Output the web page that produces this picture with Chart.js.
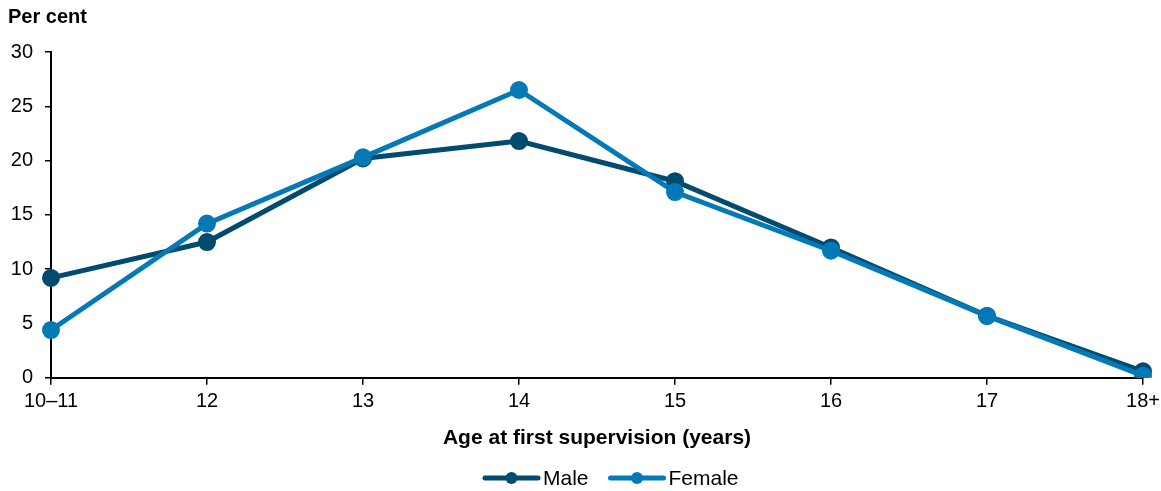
<!DOCTYPE html>
<html>
<head>
<meta charset="utf-8">
<script src="https://cdn.jsdelivr.net/npm/chart.js@4/dist/chart.umd.min.js"></script>
<style>
    html, body { margin: 0; padding: 0; background: #fff; }
    #wrap { width: 1161px; height: 491px; position: relative; }
</style>
</head>
<body>
<div id="wrap"><canvas id="chart"></canvas></div>
<script>
const ageLabels = ['10\u201311', '12', '13', '14', '15', '16', '17', '18+'];
const maleValues = [9.2, 12.5, 20.2, 21.8, 18.1, 12.0, 5.7, 0.6];
const femaleValues = [4.4, 14.2, 20.3, 26.5, 17.1, 11.7, 5.7, 0.2];
const yTicks = [0, 5, 10, 15, 20, 25, 30];

const maleColor = '#004b6e';
const femaleColor = '#0479b7';
const fontFamily = '"Liberation Sans", Arial, sans-serif';

// "Per cent" label top-left + legend (line with dot) under the axis title
const extras = {
    id: 'extras',
    afterDraw(chart) {
        const ctx = chart.ctx;
        ctx.save();
        ctx.fillStyle = '#000';
        ctx.textBaseline = 'middle';
        ctx.textAlign = 'left';
        ctx.font = 'bold 20px ' + fontFamily;
        ctx.fillText('Per cent', 8, 17);

        ctx.font = '21px ' + fontFamily;
        const y = 478;
        let x = 485;
        chart.data.datasets.forEach(ds => {
            ctx.strokeStyle = ds.borderColor;
            ctx.fillStyle = ds.borderColor;
            ctx.lineWidth = 5;
            ctx.lineCap = 'round';
            ctx.beginPath();
            ctx.moveTo(x, y);
            ctx.lineTo(x + 53, y);
            ctx.stroke();
            ctx.beginPath();
            ctx.arc(x + 26.5, y, 6, 0, Math.PI * 2);
            ctx.fill();
            ctx.fillStyle = '#000';
            ctx.fillText(ds.label, x + 58, y + 1);
            x += 58 + ctx.measureText(ds.label).width + 22;
        });
        ctx.restore();
    }
};

new Chart(document.getElementById('chart'), {
    type: 'line',
    data: {
        labels: ageLabels,
        datasets: [
            {
                label: 'Male',
                data: maleValues,
                borderColor: maleColor,
                backgroundColor: maleColor,
                borderWidth: 5,
                pointRadius: 6.5,
                pointHoverRadius: 6.5,
                pointStyle: 'circle',
                order: 1
            },
            {
                label: 'Female',
                data: femaleValues,
                borderColor: femaleColor,
                backgroundColor: femaleColor,
                borderWidth: 5,
                pointRadius: 6.5,
                pointHoverRadius: 6.5,
                pointStyle: 'circle',
                order: 0
            }
        ]
    },
    options: {
        responsive: true,
        maintainAspectRatio: false,
        animation: false,
        layout: { padding: { top: 52, right: 18, left: 0, bottom: 40 } },
        plugins: {
            tooltip: { enabled: false },
            legend: { display: false }
        },
        scales: {
            x: {
                offset: false,
                afterFit(scale) {
                    scale.paddingRight = 18;
                },
                grid: {
                    display: true,
                    drawOnChartArea: false,
                    drawTicks: true,
                    tickLength: 7,
                    color: '#000',
                    lineWidth: 1.5
                },
                border: { display: true, color: '#000', width: 2 },
                ticks: {
                    color: '#000',
                    padding: 5,
                    maxRotation: 0,
                    autoSkip: false,
                    font: { family: fontFamily, size: 20 }
                },
                title: {
                    display: true,
                    text: 'Age at first supervision (years)',
                    color: '#000',
                    font: { family: fontFamily, size: 21, weight: 'bold' },
                    padding: { top: 7, bottom: 0 }
                }
            },
            y: {
                min: 0,
                max: 30,
                afterBuildTicks(scale) {
                    scale.ticks = yTicks.map(v => ({ value: v }));
                },
                afterFit(scale) {
                    scale.width = 51;
                },
                grid: {
                    display: true,
                    drawOnChartArea: false,
                    drawTicks: true,
                    tickLength: 6,
                    color: '#000',
                    lineWidth: 1.5
                },
                border: { display: true, color: '#000', width: 2 },
                ticks: {
                    color: '#000',
                    padding: 12,
                    font: { family: fontFamily, size: 20 }
                }
            }
        }
    },
    plugins: [extras]
});
</script>
</body>
</html>
